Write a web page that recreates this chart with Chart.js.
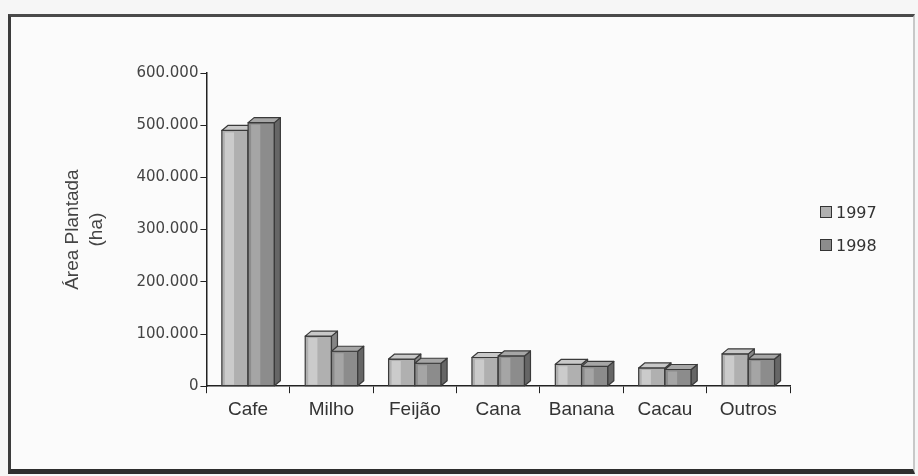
<!DOCTYPE html>
<html>
<head>
<meta charset="utf-8">
<script src="https://cdn.jsdelivr.net/npm/chart.js@4/dist/chart.umd.min.js"></script>
<style>
  html, body { margin: 0; padding: 0; background: #f6f6f6; }
  #wrap { position: relative; width: 918px; height: 476px; }
  #frame {
    position: absolute; left: 8px; top: 14px; width: 902px; height: 452px;
    border-left: 3px solid #3c3c3c; border-top: 3px solid #4a4a4a;
    border-bottom: 5px solid #2e2e2e; border-right: 2px solid #c8c8c8;
    background: #fbfbfb;
  }
  canvas { position: absolute; left: 0; top: 0; }
  #legenda { position: absolute; left: 820px; top: 201px; font: 16px 'DejaVu Sans'; color: #333; }
  #legenda div { height: 22px; margin-bottom: 11px; display: flex; align-items: center; }
  #legenda span.box { width: 10px; height: 10px; border: 1.5px solid #333; margin-right: 4px; }
</style>
</head>
<body>
<div id="wrap">
  <div id="frame"></div>
  <canvas id="chart" width="918" height="476"></canvas>
  <div id="legenda"></div>
</div>
<script>
/* ============================= */
/*            DATA               */
/* ============================= */
const culturas = ['Cafe', 'Milho', 'Feijão', 'Cana', 'Banana', 'Cacau', 'Outros'];
const area1997 = [490000, 96000, 52000, 55000, 42000, 35000, 62000];
const area1998 = [505000, 67000, 44000, 58000, 38000, 32000, 52000];
const yTicks = [0, 100000, 200000, 300000, 400000, 500000, 600000];

const fmt = v => v === 0 ? '0' : v.toLocaleString('pt-BR');

// fill colours per series: front, top, side
const tons = [
  { front: '#b0b0b0', top: '#c8c8c8', side: '#858585', hi: 'rgba(255,255,255,0.35)' },
  { front: '#8c8c8c', top: '#a6a6a6', side: '#666666', hi: 'rgba(255,255,255,0.22)' }
];

/* ============================= */
/*     3D BARS (front/side/top)  */
/* ============================= */
// bars themselves are transparent; this paints them from the element geometry,
// 1997 first so that the 1998 bar sits over its side face
const bars3d = {
  id: 'bars3d',
  afterDatasetsDraw(chart) {
    const ctx = chart.ctx;
    const d = 6, dy = 5;
    ctx.save();
    ctx.strokeStyle = '#3a3a3a';
    ctx.lineWidth = 1.2;
    ctx.lineJoin = 'round';
    chart.data.labels.forEach((_, j) => {
      [0, 1].forEach(i => {
        const bar = chart.getDatasetMeta(i).data[j];
        const c = tons[i];
        const l = bar.x - bar.width / 2, r = bar.x + bar.width / 2;
        const t = bar.y, b = bar.base;
        // front
        ctx.fillStyle = c.front;
        ctx.fillRect(l, t, bar.width, b - t);
        ctx.fillStyle = c.hi;
        ctx.fillRect(l + 3, t + 2, bar.width * 0.35, b - t - 3);
        ctx.strokeRect(l, t, bar.width, b - t);
        // right side
        ctx.beginPath();
        ctx.moveTo(r, t); ctx.lineTo(r + d, t - dy); ctx.lineTo(r + d, b - dy); ctx.lineTo(r, b);
        ctx.closePath();
        ctx.fillStyle = c.side; ctx.fill(); ctx.stroke();
        // top
        ctx.beginPath();
        ctx.moveTo(l, t); ctx.lineTo(l + d, t - dy); ctx.lineTo(r + d, t - dy); ctx.lineTo(r, t);
        ctx.closePath();
        ctx.fillStyle = c.top; ctx.fill(); ctx.stroke();
      });
    });
    ctx.restore();
  }
};

/* ============================= */
/*            CHART              */
/* ============================= */
const ctx = document.getElementById('chart').getContext('2d');
const chart = new Chart(ctx, {
  type: 'bar',
  data: {
    labels: culturas,
    datasets: [
      { label: '1997', data: area1997, backgroundColor: 'rgba(0,0,0,0)', borderWidth: 0 },
      { label: '1998', data: area1998, backgroundColor: 'rgba(0,0,0,0)', borderWidth: 0 }
    ]
  },
  options: {
    responsive: false,
    animation: false,
    layout: { padding: { left: 56, right: 128, top: 73, bottom: 50 } },
    datasets: { bar: { categoryPercentage: 0.63, barPercentage: 1.0 } },
    plugins: {
      legend: { display: false },
      tooltip: { enabled: false }
    },
    scales: {
      x: {
        offset: true,
        grid: { offset: true, drawOnChartArea: false, color: '#222', tickLength: 7, tickColor: '#222' },
        border: { color: '#222', width: 1.5 },
        ticks: { color: '#333', font: { family: 'Liberation Sans', size: 19 }, padding: 5 }
      },
      y: {
        min: 0, max: 600000,
        afterBuildTicks(axis) { axis.ticks = yTicks.map(v => ({ value: v })); },
        grid: { drawOnChartArea: false, color: '#222', tickLength: 6, tickColor: '#222' },
        border: { color: '#222', width: 1.5 },
        ticks: { color: '#444', font: { family: 'DejaVu Sans', size: 15 }, padding: 2, callback: v => fmt(v) },
        title: {
          display: true, text: ['Área Plantada', '(ha)'], color: '#444',
          font: { family: 'Liberation Sans', size: 19, lineHeight: 1.3 }, padding: { bottom: 25 }
        }
      }
    }
  },
  plugins: [bars3d]
});

/* ============================= */
/*            LEGEND             */
/* ============================= */
const legenda = document.getElementById('legenda');
chart.data.datasets.forEach((ds, i) => {
  const item = document.createElement('div');
  item.innerHTML = `<span class="box" style="background:${tons[i].front}"></span>${ds.label}`;
  legenda.appendChild(item);
});
</script>
</body>
</html>
